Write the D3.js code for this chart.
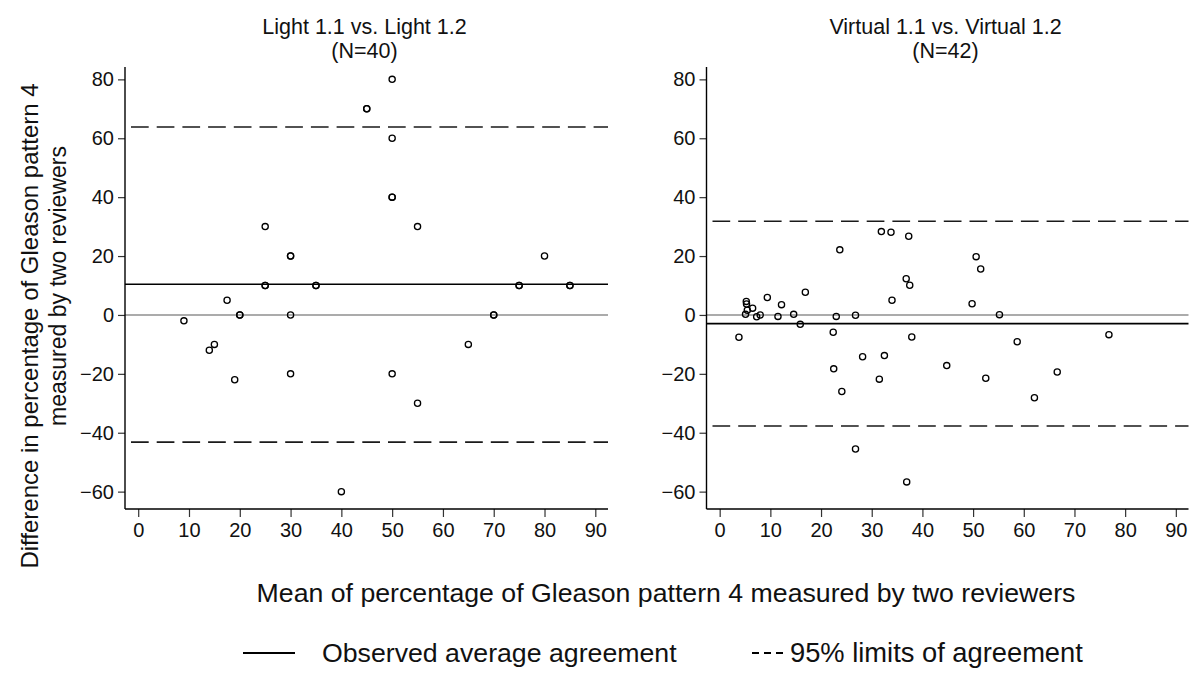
<!DOCTYPE html>
<html>
<head>
<meta charset="utf-8">
<script src="https://cdn.jsdelivr.net/npm/d3@7"></script>
<style>
  html, body { margin: 0; padding: 0; background: #fff; }
  svg { display: block; font-family: "Liberation Sans", Arial, sans-serif; }
</style>
</head>
<body>
<svg id="chart" width="1200" height="680"></svg>
<script>
// Bland–Altman agreement data: mean of the two readings (x) vs. difference (y)
const lightMeans = [9, 14, 15, 17.5, 19, 20, 20, 25, 25, 25, 30, 30, 30, 30, 35, 35, 40, 45, 45,
  50, 50, 50, 50, 50, 55, 55, 65, 70, 70, 75, 75, 80, 85, 85];
const lightDiffs = [-2, -12, -10, 5, -22, 0, 0, 10, 10, 30, 20, 20, 0, -20, 10, 10, -60, 70, 70,
  80, 60, 40, 40, -20, 30, -30, -10, 0, 0, 10, 10, 20, 10, 10];

const virtualMeans = [3.8, 5.25, 5.3, 5.45, 5.1, 6.5, 7.3, 8.0, 9.4, 12.2, 11.5, 14.6, 15.9, 16.9,
  22.4, 23.0, 23.7, 26.8, 28.2, 31.9, 33.8, 32.5, 37.3, 36.8, 37.5, 34.0, 37.9, 50.6, 51.5, 49.8,
  55.2, 58.7, 76.8, 22.5, 24.1, 31.5, 44.8, 52.5, 26.8, 36.9, 66.6, 62.1];
const virtualDiffs = [-7.6, 4.6, 3.7, 1.6, 0.2, 2.3, -0.6, 0, 5.9, 3.5, -0.5, 0.2, -3.2, 7.7,
  -5.9, -0.5, 22.1, -0.1, -14.2, 28.3, 28.1, -13.8, 26.7, 12.3, 10.1, 5.0, -7.5, 19.8, 15.6, 3.8,
  0.1, -9.1, -6.7, -18.3, -26, -21.8, -17.2, -21.5, -45.5, -56.7, -19.4, -28.1];

// Mean difference and 95% limits of agreement for each comparison
const panelTitles = [["Light 1.1 vs. Light 1.2", "(N=40)"], ["Virtual 1.1 vs. Virtual 1.2", "(N=42)"]];
const meanDiffs = [10.4, -2.95];
const upperLimits = [63.8, 31.8];
const lowerLimits = [-43.2, -37.7];

const xTicks = [0, 10, 20, 30, 40, 50, 60, 70, 80, 90];
const yTicks = [-60, -40, -20, 0, 20, 40, 60, 80];

const yLabelLines = ["Difference in percentage of Gleason pattern 4", "measured by two reviewers"];
const xLabel = "Mean of percentage of Gleason pattern 4 measured by two reviewers";
const legendLabels = ["Observed average agreement", "95% limits of agreement"];

const svg = d3.select("#chart");
const plotTop = 67, plotBottom = 509;
const y = d3.scaleLinear().domain([-65.9, 84.2]).range([plotBottom, plotTop]);

const panels = [
  { left: 125, right: 608, xs: lightMeans, ys: lightDiffs },
  { left: 706.5, right: 1188.5, xs: virtualMeans, ys: virtualDiffs }
];

panels.forEach((p, i) => {
  const x = d3.scaleLinear().domain([-2.6, 92.5]).range([p.left, p.right]);
  const g = svg.append("g");
  const cx = (p.left + p.right) / 2 - 2;

  // two-line panel title
  g.append("text")
    .attr("x", cx).attr("y", 34)
    .attr("text-anchor", "middle")
    .attr("font-size", 21.5)
    .attr("fill", "#111")
    .text(panelTitles[i][0]);
  g.append("text")
    .attr("x", cx).attr("y", 58)
    .attr("text-anchor", "middle")
    .attr("font-size", 21.5)
    .attr("fill", "#111")
    .text(panelTitles[i][1]);

  // zero reference line
  g.append("line")
    .attr("x1", p.left).attr("x2", p.right)
    .attr("y1", y(0)).attr("y2", y(0))
    .attr("stroke", "#8f8f8f").attr("stroke-width", 1.6);

  // mean difference
  g.append("line")
    .attr("x1", p.left).attr("x2", p.right)
    .attr("y1", y(meanDiffs[i])).attr("y2", y(meanDiffs[i]))
    .attr("stroke", "#000").attr("stroke-width", 1.6);

  // limits of agreement
  [upperLimits[i], lowerLimits[i]].forEach(v => {
    g.append("line")
      .attr("x1", p.left + 6).attr("x2", p.right)
      .attr("y1", y(v)).attr("y2", y(v))
      .attr("stroke", "#1a1a1a").attr("stroke-width", 1.6)
      .attr("stroke-dasharray", "17.7,8");
  });

  // points
  g.append("g").selectAll("circle")
    .data(p.xs.map((d, k) => [d, p.ys[k]]))
    .join("circle")
    .attr("cx", d => x(d[0]))
    .attr("cy", d => y(d[1]))
    .attr("r", 3.1)
    .attr("fill", "none")
    .attr("stroke", "#000")
    .attr("stroke-width", 1.3);

  // axes
  const yAxis = g.append("g")
    .attr("transform", `translate(${p.left},0)`)
    .call(d3.axisLeft(y).tickValues(yTicks).tickSize(7).tickPadding(4).tickFormat(d3.format("d")));
  const xAxis = g.append("g")
    .attr("transform", `translate(0,${plotBottom})`)
    .call(d3.axisBottom(x).tickValues(xTicks).tickSize(8).tickPadding(6).tickFormat(d3.format("d")));
  [yAxis, xAxis].forEach(a => {
    a.select(".domain").remove();
    a.selectAll(".tick line").attr("stroke", "#333").attr("stroke-width", 1.2);
    a.selectAll(".tick text").attr("font-size", 20).attr("fill", "#111")
      .attr("font-family", "Liberation Sans, Arial, sans-serif");
  });
  // axis lines
  g.append("line").attr("x1", p.left).attr("x2", p.left).attr("y1", plotTop).attr("y2", plotBottom)
    .attr("stroke", "#000").attr("stroke-width", 1.4);
  g.append("line").attr("x1", p.left).attr("x2", p.right).attr("y1", plotBottom).attr("y2", plotBottom)
    .attr("stroke", "#000").attr("stroke-width", 1.4);
});

// y-axis title (two lines)
svg.append("text")
  .attr("transform", "translate(38,326) rotate(-90)")
  .attr("text-anchor", "middle")
  .attr("font-size", 24)
  .attr("fill", "#111")
  .text(yLabelLines[0]);
svg.append("text")
  .attr("transform", "translate(66,286) rotate(-90)")
  .attr("text-anchor", "middle")
  .attr("font-size", 23)
  .attr("fill", "#111")
  .text(yLabelLines[1]);

// x-axis title
svg.append("text")
  .attr("x", 666).attr("y", 602)
  .attr("text-anchor", "middle")
  .attr("font-size", 26.7)
  .attr("fill", "#111")
  .text(xLabel);

// legend
svg.append("line").attr("x1", 243).attr("x2", 295).attr("y1", 653).attr("y2", 653)
  .attr("stroke", "#000").attr("stroke-width", 2);
svg.append("text").attr("x", 322).attr("y", 662).attr("font-size", 26.7).attr("fill", "#111")
  .text(legendLabels[0]);
svg.append("line").attr("x1", 752).attr("x2", 787).attr("y1", 653).attr("y2", 653)
  .attr("stroke", "#000").attr("stroke-width", 2).attr("stroke-dasharray", "7,5");
svg.append("text").attr("x", 790).attr("y", 662).attr("font-size", 27.3).attr("fill", "#111")
  .text(legendLabels[1]);
</script>
</body>
</html>
